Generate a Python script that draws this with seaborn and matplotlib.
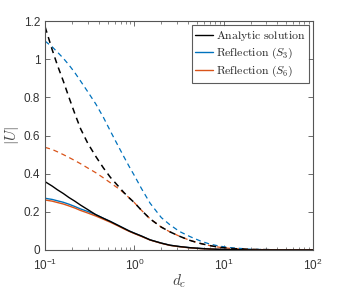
import numpy as np
import pandas as pd
import matplotlib
matplotlib.use("Agg")
import matplotlib.pyplot as plt
import seaborn as sns
from matplotlib.lines import Line2D

# values
d_c = [0.1, 0.12, 0.137, 0.16, 0.185, 0.215, 0.25, 0.3, 0.37, 0.45, 0.54, 0.65, 0.76, 0.88,
       1.0, 1.2, 1.5, 2.0, 2.5, 3.2, 4.2, 5.5, 7.0, 9.0, 12.0, 20.0, 40.0, 100.0]

analytic_far = [1.17, 1.05, 0.97, 0.885, 0.80, 0.715, 0.635, 0.56, 0.49, 0.43, 0.38, 0.338, 0.302, 0.272,
                0.248, 0.208, 0.163, 0.12, 0.095, 0.072, 0.05, 0.034, 0.023, 0.014, 0.008, 0.003, 0.001, 0.0]
s3_far = [1.095, 1.065, 1.038, 1.005, 0.97, 0.93, 0.885, 0.83, 0.765, 0.695, 0.622, 0.55, 0.49, 0.435,
          0.39, 0.322, 0.245, 0.17, 0.132, 0.097, 0.07, 0.047, 0.031, 0.02, 0.012, 0.004, 0.001, 0.0]
s6_far = [0.538, 0.527, 0.515, 0.5, 0.485, 0.469, 0.452, 0.43, 0.405, 0.378, 0.352, 0.325, 0.3, 0.272,
          0.248, 0.208, 0.163, 0.12, 0.095, 0.072, 0.05, 0.034, 0.023, 0.014, 0.008, 0.003, 0.001, 0.0]

analytic_near = [0.358, 0.335, 0.316, 0.296, 0.275, 0.256, 0.235, 0.212, 0.185, 0.166, 0.149, 0.13, 0.114, 0.099,
                 0.088, 0.073, 0.053, 0.036, 0.025, 0.018, 0.012, 0.008, 0.005, 0.003, 0.002, 0.0008, 0.0002, 0.0]
s3_near = [0.271, 0.265, 0.258, 0.25, 0.24, 0.228, 0.215, 0.202, 0.185, 0.166, 0.149, 0.13, 0.114, 0.099,
           0.088, 0.073, 0.053, 0.036, 0.025, 0.018, 0.012, 0.008, 0.005, 0.003, 0.002, 0.0008, 0.0002, 0.0]
s6_near = [0.262, 0.256, 0.249, 0.241, 0.231, 0.22, 0.207, 0.194, 0.178, 0.161, 0.145, 0.127, 0.111, 0.097,
           0.086, 0.071, 0.052, 0.035, 0.024, 0.017, 0.011, 0.007, 0.005, 0.003, 0.002, 0.0008, 0.0002, 0.0]

black = "#000000"
blue = "#0072BD"
orange = "#D95319"

sns.set_style("ticks")
plt.rcParams["font.family"] = ["Liberation Sans", "DejaVu Sans"]
plt.rcParams["mathtext.fontset"] = "custom"
plt.rcParams["mathtext.rm"] = "Liberation Sans"
plt.rcParams["mathtext.it"] = "Liberation Sans:italic"

fig = plt.figure(figsize=(3.47, 2.89), dpi=100)
ax = fig.add_axes([0.130, 0.135, 0.772, 0.792])

# dashed curves first, solid curves on top
dash = (0, (4, 3))
sns.lineplot(x=d_c, y=s3_far, ax=ax, color=blue, lw=0.9, linestyle=dash)
sns.lineplot(x=d_c, y=s6_far, ax=ax, color=orange, lw=0.9, linestyle=dash)
sns.lineplot(x=d_c, y=analytic_far, ax=ax, color=black, lw=1.1, linestyle=dash)
sns.lineplot(x=d_c, y=s3_near, ax=ax, color=blue, lw=1.0)
sns.lineplot(x=d_c, y=s6_near, ax=ax, color=orange, lw=1.0)
sns.lineplot(x=d_c, y=analytic_near, ax=ax, color=black, lw=1.0)

ax.set_xscale("log")
ax.set_xlim(0.1, 100)
ax.set_ylim(0, 1.2)
ax.set_yticks([0, 0.2, 0.4, 0.6, 0.8, 1.0, 1.2])
ax.set_yticklabels(["0", "0.2", "0.4", "0.6", "0.8", "1", "1.2"])

for sp in ax.spines.values():
    sp.set_color("#555555")
    sp.set_linewidth(0.8)
ax.tick_params(which="both", direction="in", top=True, right=True, colors="#555555",
               labelcolor="#333333", labelsize=8.5)
ax.tick_params(which="major", length=3.5, width=0.6)
ax.tick_params(which="minor", length=2, width=0.5)
ax.tick_params(axis="x", pad=5.5)

ax.set_xlabel(r"$d_c$", fontsize=11, color="#444444", labelpad=0, math_fontfamily="cm")
ax.set_ylabel(r"$|U|$", fontsize=11, color="#444444", labelpad=2, math_fontfamily="cm")

handles = [Line2D([], [], color=black, lw=1.0),
           Line2D([], [], color=blue, lw=1.0),
           Line2D([], [], color=orange, lw=1.0)]
labels = [r"$\mathrm{Analytic\ solution}$",
          r"$\mathrm{Reflection\ (}S_3\mathrm{)}$",
          r"$\mathrm{Reflection\ (}S_6\mathrm{)}$"]
leg = ax.legend(handles, labels, loc="upper right", fontsize=8.5, frameon=True, fancybox=False,
                handlelength=1.5, handletextpad=0.2, borderpad=0.3, labelspacing=0.25,
                borderaxespad=0.35)
leg.get_frame().set_edgecolor("#333333")
leg.get_frame().set_linewidth(0.8)
for t in leg.get_texts():
    t.set_math_fontfamily("cm")

fig.savefig("out.png", dpi=100)
